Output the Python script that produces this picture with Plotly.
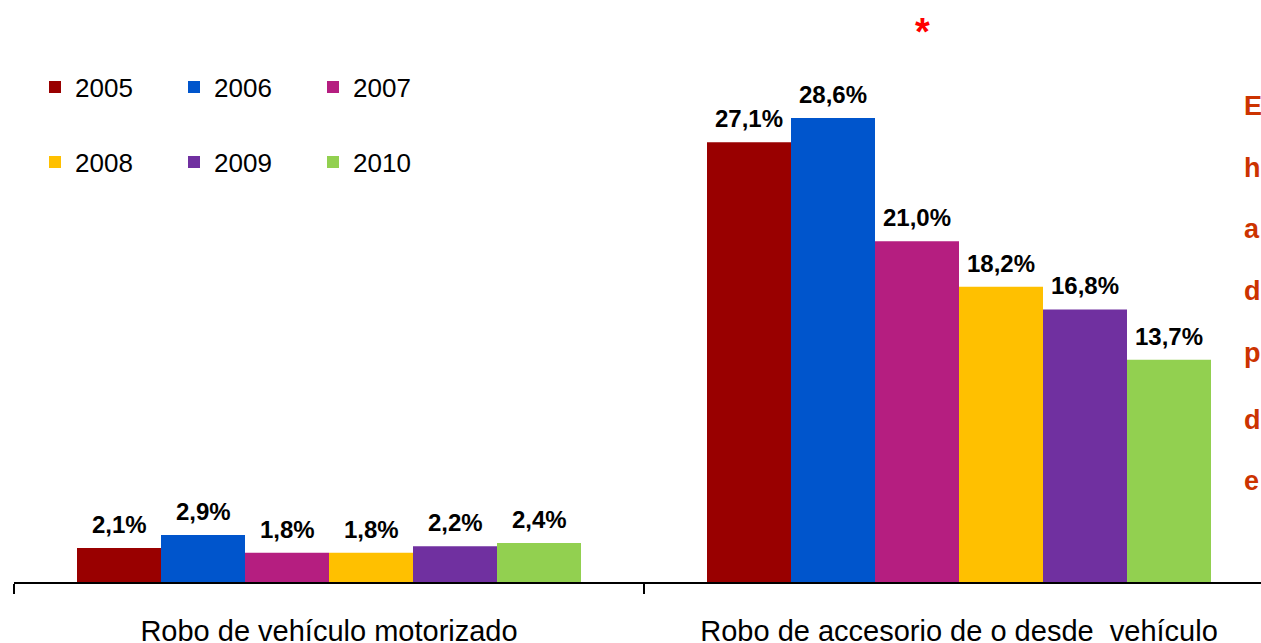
import plotly.graph_objects as go

categories = ["Robo de vehículo motorizado", "Robo de accesorio de o desde  vehículo"]
years = ["2005", "2006", "2007", "2008", "2009", "2010"]
values = {
    "2005": [2.1, 27.1],
    "2006": [2.9, 28.6],
    "2007": [1.8, 21.0],
    "2008": [1.8, 18.2],
    "2009": [2.2, 16.8],
    "2010": [2.4, 13.7],
}
colors = ["#990000", "#0055CC", "#B51E80", "#FFC000", "#7030A0", "#92D050"]
side_letters = ["E", "h", "a", "d", "p", "d", "e"]

W, H = 1261, 643
AXIS_Y = 582
PW, PH = W - 14, AXIS_Y
FONT = "Liberation Sans, Arial, sans-serif"
BARGAP = 0.2
n = len(years)

fig = go.Figure()
for i, yr in enumerate(years):
    fig.add_trace(go.Bar(
        name=yr,
        x=categories,
        y=values[yr],
        marker=dict(color=colors[i], line=dict(width=0)),
        legend="legend" if i < 3 else "legend2",
    ))

ann = []
# value labels above each bar, placed in data coordinates
slot = (1 - BARGAP) / n
for i, yr in enumerate(years):
    for ci, v in enumerate(values[yr]):
        ann.append(dict(
            x=ci + (i - (n - 1) / 2) * slot, y=v, xref="x", yref="y",
            text=f"{v:.1f}%".replace(".", ","),
            showarrow=False, xanchor="center", yanchor="bottom", yshift=8,
            font=dict(family=FONT, size=24, color="#000000", weight="bold"),
        ))

# side letters (cut-off text at right edge)
letter_y = [106, 168, 229, 291, 353, 420, 481]
for ch, py in zip(side_letters, letter_y):
    ann.append(dict(
        text=ch, xref="paper", yref="paper",
        x=(1242 - 14) / PW, y=1 - py / PH,
        xanchor="left", yanchor="middle", showarrow=False,
        font=dict(family=FONT, size=27, color="#CC3300", weight="bold"),
    ))
ann.append(dict(
    text="*", xref="paper", yref="paper",
    x=(922 - 14) / PW, y=1 - 32 / PH,
    xanchor="center", yanchor="middle", showarrow=False,
    font=dict(family=FONT, size=38, color="#FF0000", weight="bold"),
))

legend_common = dict(
    orientation="h", xref="paper", yref="paper",
    xanchor="left", yanchor="middle",
    entrywidth=94, entrywidthmode="pixels",
    font=dict(family=FONT, size=26, color="#000000"),
    bgcolor="rgba(0,0,0,0)", borderwidth=0,
    itemclick=False, itemdoubleclick=False,
)

fig.update_layout(
    width=W, height=H,
    margin=dict(l=14, r=0, t=0, b=H - AXIS_Y, autoexpand=False),
    paper_bgcolor="white", plot_bgcolor="white",
    barmode="group", bargap=BARGAP, bargroupgap=0,
    font=dict(family=FONT, color="#000000"),
    showlegend=True,
    legend=dict(**legend_common, x=(35 - 14) / PW, y=1 - 87 / PH),
    legend2=dict(**legend_common, x=(35 - 14) / PW, y=1 - 162 / PH),
    xaxis=dict(
        type="category", range=[-0.5, -0.5 + PW / 630], automargin=False,
        showline=True, linecolor="#000000", linewidth=2,
        ticks="outside", tickson="boundaries", ticklen=10, tickwidth=1.5,
        tickcolor="#000000", ticklabelstandoff=22,
        tickfont=dict(family=FONT, size=29, color="#000000"),
        showgrid=False, zeroline=False,
    ),
    yaxis=dict(
        range=[0, PH / (464 / 28.6)], visible=False, showgrid=False,
        automargin=False,
    ),
    annotations=ann,
)

fig.write_html(
    "out.html",
    config={"displayModeBar": False},
    post_script="document.body.style.margin='0px';document.body.style.overflow='hidden';",
)
